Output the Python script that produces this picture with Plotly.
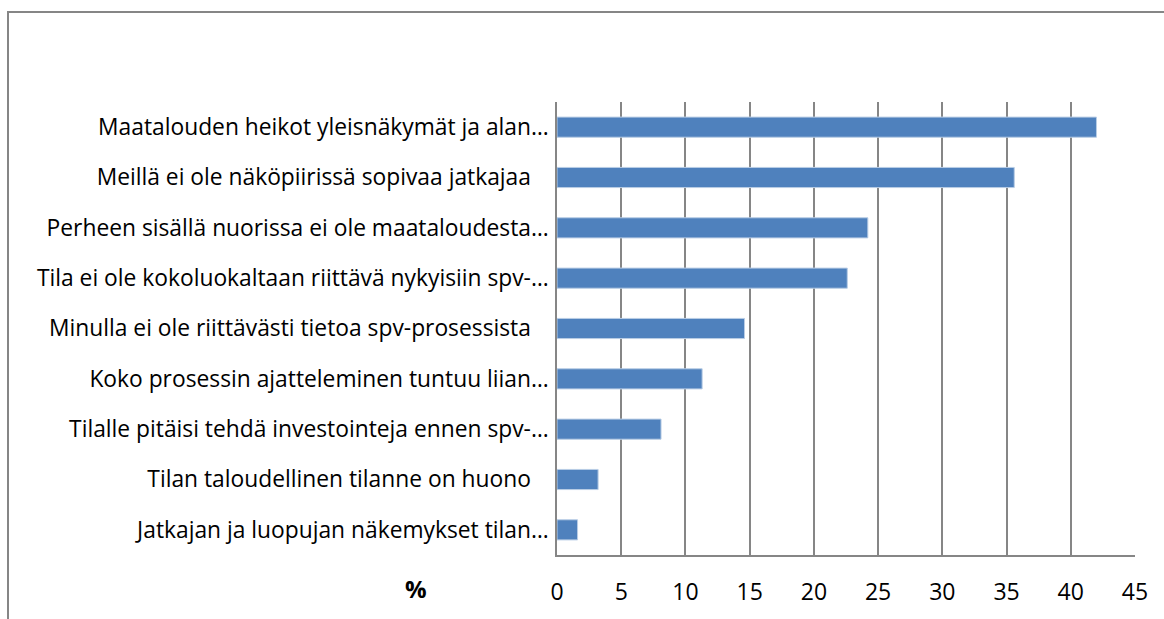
import plotly.graph_objects as go

# kategoriat ylhäältä alas (osassa alkuperäisistä otsikoista on loppuvälilyöntejä)
NB = "\u00a0\u00a0\u00a0"
syyt = [
    "Maatalouden heikot yleisnäkymät ja alan…",
    "Meillä ei ole näköpiirissä sopivaa jatkajaa" + NB,
    "Perheen sisällä nuorissa ei ole maataloudesta…",
    "Tila ei ole kokoluokaltaan riittävä nykyisiin spv-…",
    "Minulla ei ole riittävästi tietoa spv-prosessista" + NB,
    "Koko prosessin ajatteleminen tuntuu liian…",
    "Tilalle pitäisi tehdä investointeja ennen spv-…",
    "Tilan taloudellinen tilanne on huono" + NB,
    "Jatkajan ja luopujan näkemykset tilan…",
]
osuus = [42.0, 35.6, 24.2, 22.6, 14.6, 11.3, 8.1, 3.2, 1.6]
x_ticks = [0, 5, 10, 15, 20, 25, 30, 35, 40, 45]

FONT = "Open Sans"
W, H = 1164, 619
L, R, T, B = 557, 29, 102, 59
pw, ph = W - L - R, H - T - B

fig = go.Figure()
fig.add_trace(go.Bar(
    x=osuus, y=syyt, orientation="h",
    marker=dict(color="#4F81BD", line=dict(color="#B9CDE5", width=1)),
    width=0.4,
))

fig.update_layout(
    width=W, height=H,
    margin=dict(l=L, r=R, t=T, b=B),
    paper_bgcolor="white", plot_bgcolor="white",
    showlegend=False,
    font=dict(family=FONT, size=23, color="#000000"),
    xaxis=dict(
        range=[0, 45], tickvals=x_ticks,
        showgrid=True, gridcolor="#868686", gridwidth=1.5,
        zeroline=False,
        showline=True, linecolor="#868686", linewidth=1.5,
        ticks="", ticklabelstandoff=16,
        tickfont=dict(family=FONT, size=23),
    ),
    yaxis=dict(
        autorange="reversed",
        showgrid=False, zeroline=False,
        showline=True, linecolor="#868686", linewidth=1.5,
        ticks="", ticklabelstandoff=2,
        tickfont=dict(family=FONT, size=22.8),
    ),
    annotations=[dict(
        text="<b>%</b>", xref="paper", yref="paper",
        x=(416 - L) / pw, y=(H - B - 594) / ph,
        xanchor="center", yanchor="middle",
        showarrow=False, font=dict(family=FONT, size=24),
    )],
)

# kaavion reunus
fig.add_shape(
    type="rect", xref="paper", yref="paper",
    x0=(8 - L) / pw, x1=(1190 - L) / pw,
    y0=(H - B - 660) / ph, y1=(H - B - 11) / ph,
    line=dict(color="#868686", width=2), fillcolor="rgba(0,0,0,0)",
    layer="below",
)

fig.write_html("out.html", config={"displayModeBar": False},
               post_script="document.body.style.margin='0';")
